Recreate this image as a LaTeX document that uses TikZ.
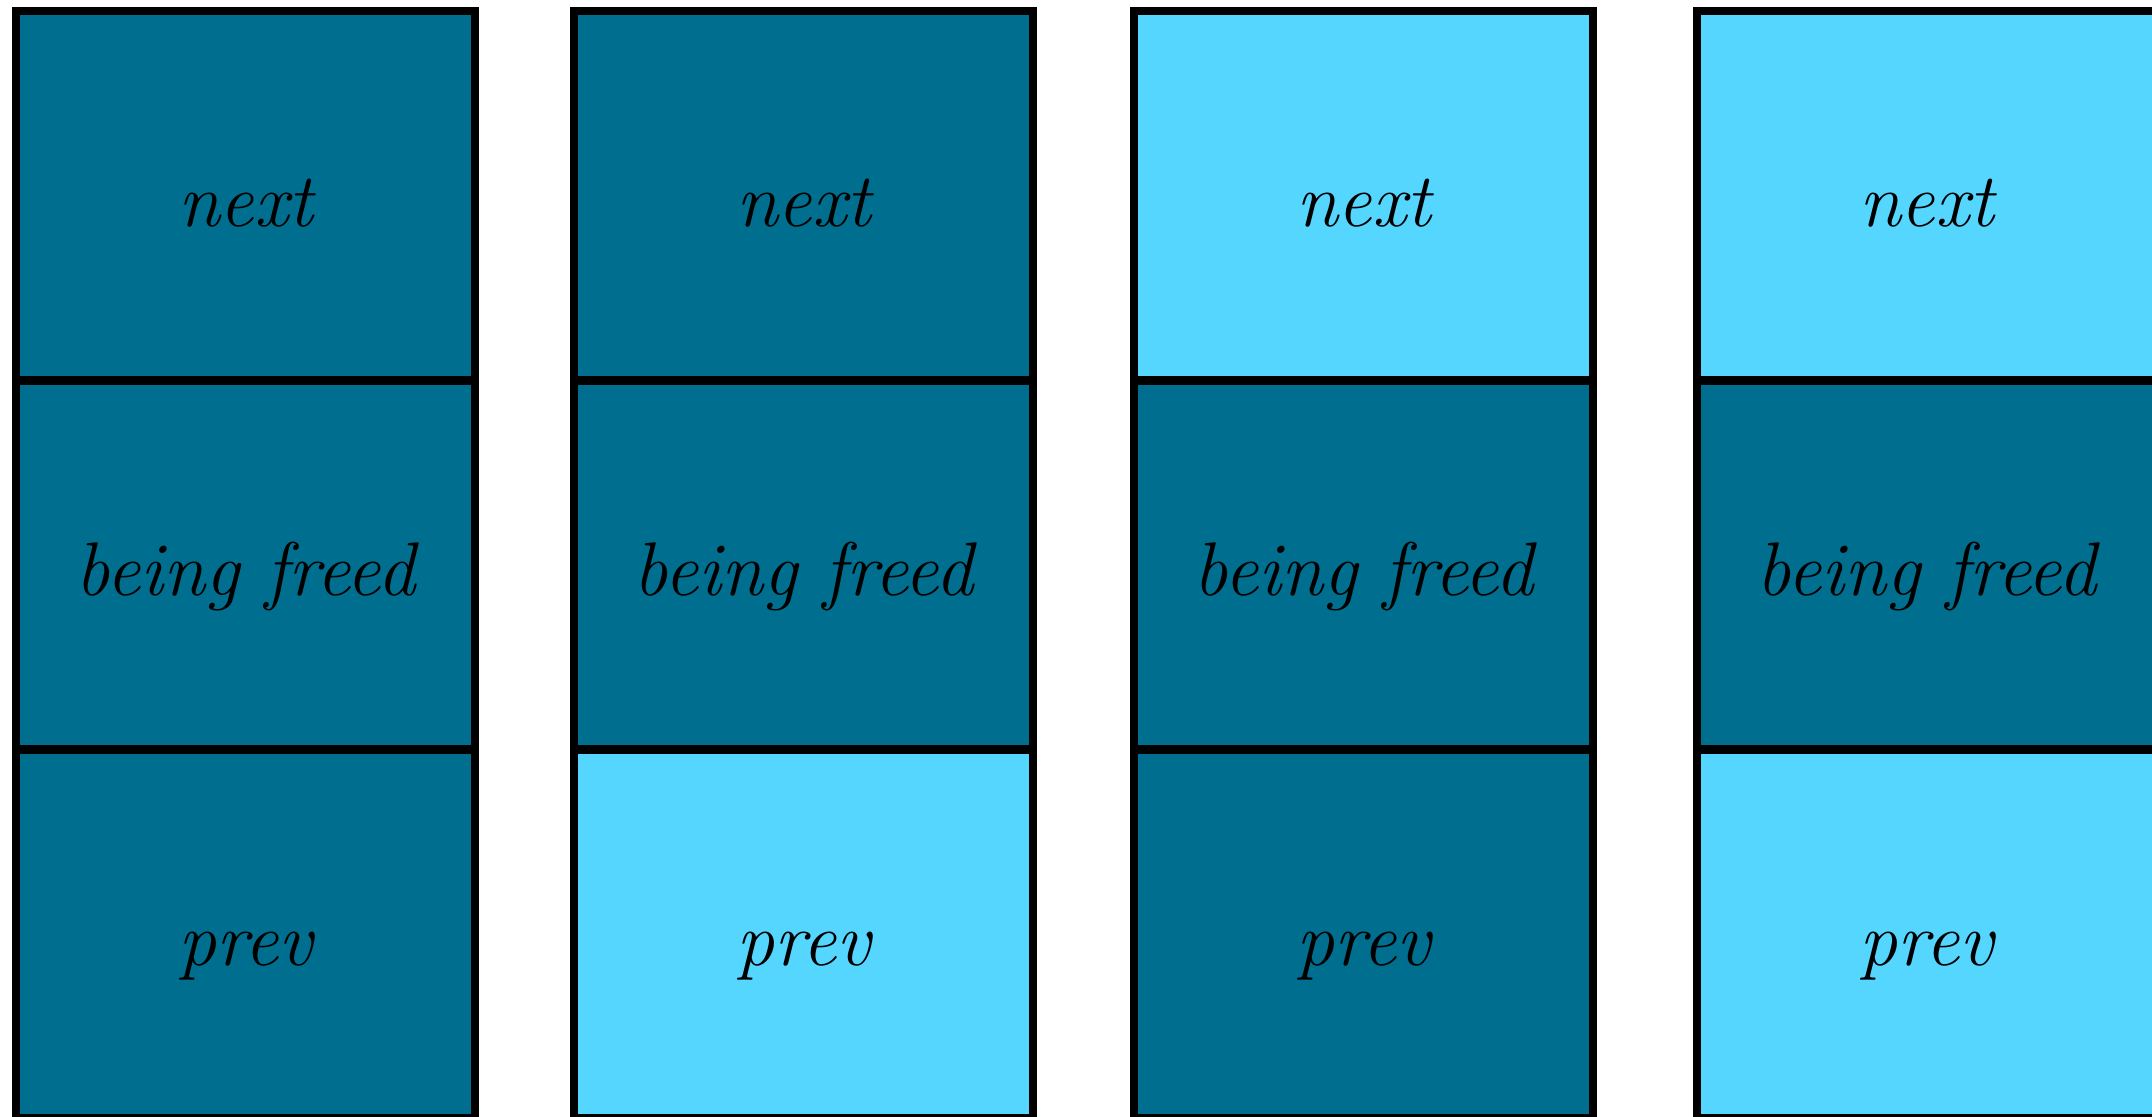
\documentclass[tikz,border=0pt]{standalone}
\usepackage{fontspec}
\definecolor{darkteal}{RGB}{0,110,143}
\definecolor{lightcyan}{RGB}{85,214,255}
\tikzset{
  cell/.style={draw=black, line width=4.3pt, rectangle, minimum width=229.5pt, minimum height=184.5pt, inner sep=0pt, outer sep=0pt},
  dk/.style={cell, fill=darkteal},
  lt/.style={cell, fill=lightcyan},
  lbl/.style={anchor=base, inner sep=0pt, font=\fontsize{38}{42}\selectfont\itshape, text=black}
}
\begin{document}
\begin{tikzpicture}[x=0.5pt,y=-0.5pt]
\useasboundingbox (0,0) rectangle (2152,1117);
\clip (0,0) rectangle (2152,1117);
% column 1
\node[dk] (a1) at (245.5,195.5) {};
\node[dk] (a2) at (245.5,564.75) {};
\node[dk] (a3) at (245.5,934) {};
% column 2
\node[dk] (b1) at (803.5,195.5) {};
\node[dk] (b2) at (803.5,564.75) {};
\node[lt] (b3) at (803.5,934) {};
% column 3
\node[lt] (c1) at (1363.5,195.5) {};
\node[dk] (c2) at (1363.5,564.75) {};
\node[dk] (c3) at (1363.5,934) {};
% column 4
\node[lt] (d1) at (1926.5,195.5) {};
\node[dk] (d2) at (1926.5,564.75) {};
\node[lt] (d3) at (1926.5,934) {};
% labels
\foreach \c in {a,b,c,d}{
  \node[lbl] (\c n) at ([yshift=-15.5pt]\c1.center) {next};
  \node[lbl] (\c f) at ([yshift=-15.5pt]\c2.center) {being freed};
  \node[lbl] (\c p) at ([yshift=-15.5pt]\c3.center) {prev};
}
\end{tikzpicture}
\end{document}
